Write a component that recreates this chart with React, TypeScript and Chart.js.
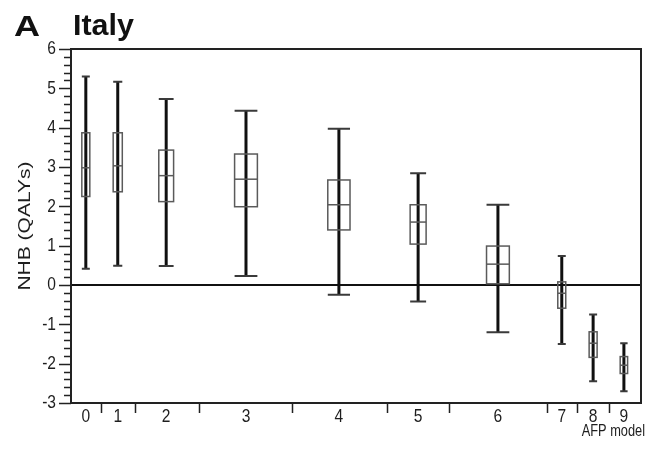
import React, { useEffect, useRef } from 'react';
import { Chart, registerables } from 'chart.js';

Chart.register(...registerables);

// ---- Data ----
const modelLabels = ['0', '1', '2', '3', '4', '5', '6', '7', '8', '9'];
const modelX = [2.6, 8.2, 16.7, 30.7, 47.0, 60.9, 74.9, 86.1, 91.6, 97.0];
const modelBoundaries = [5.26, 11.2, 22.5, 38.8, 55.4, 66.3, 83.5, 88.8, 94.4];
const whiskerHigh = [5.3, 5.17, 4.73, 4.43, 3.97, 2.84, 2.04, 0.74, -0.75, -1.48];
const quartile3 = [3.87, 3.87, 3.43, 3.33, 2.67, 2.04, 0.99, 0.08, -1.19, -1.82];
const medians = [2.98, 3.03, 2.78, 2.69, 2.04, 1.6, 0.53, -0.21, -1.48, -2.04];
const quartile1 = [2.25, 2.37, 2.12, 1.99, 1.4, 1.04, 0.03, -0.59, -1.84, -2.25];
const whiskerLow = [0.41, 0.49, 0.48, 0.23, -0.25, -0.42, -1.2, -1.5, -2.45, -2.7];
const yMin = -3;
const yMax = 6;

// ---- Styles ----
const BOX_WIDTH_UNITS = [1.4, 1.6, 2.6, 4.0, 3.9, 2.8, 4.0, 1.4, 1.4, 1.3];
const SANS = "'Liberation Sans', Arial, sans-serif";
const TEXT = '#1e1e1e';
const SQUEEZE = 0.82;

function squeezedText(ctx: any, text: string, px: number, py: number, align: string, size: number, sx: number) {
  ctx.save();
  ctx.translate(px, py);
  ctx.scale(sx, 1);
  ctx.font = `${size}px ${SANS}`;
  ctx.textAlign = align;
  ctx.textBaseline = 'middle';
  ctx.fillText(text, 0, 0);
  ctx.restore();
}

const boxPlotPlugin = {
  id: 'boxPlot',
  afterDatasetsDraw(chart: any) {
    const { ctx, chartArea, scales } = chart;
    const x = scales.x;
    const y = scales.y;
    ctx.save();
    ctx.strokeStyle = '#111';
    ctx.lineWidth = 2;
    ctx.beginPath();
    ctx.moveTo(chartArea.left, y.getPixelForValue(0));
    ctx.lineTo(chartArea.right, y.getPixelForValue(0));
    ctx.stroke();

    for (let i = 0; i < modelX.length; i++) {
      const cx = x.getPixelForValue(modelX[i]);
      const half =
        (x.getPixelForValue(modelX[i] + BOX_WIDTH_UNITS[i] / 2) -
          x.getPixelForValue(modelX[i] - BOX_WIDTH_UNITS[i] / 2)) / 2;
      const yHi = y.getPixelForValue(whiskerHigh[i]);
      const yLo = y.getPixelForValue(whiskerLow[i]);
      const yQ3 = y.getPixelForValue(quartile3[i]);
      const yQ1 = y.getPixelForValue(quartile1[i]);
      const yMed = y.getPixelForValue(medians[i]);

      ctx.strokeStyle = '#101010';
      ctx.lineWidth = 3;
      ctx.beginPath();
      ctx.moveTo(cx, yHi);
      ctx.lineTo(cx, yLo);
      ctx.stroke();

      ctx.strokeStyle = '#3a3a3a';
      ctx.lineWidth = 2;
      ctx.beginPath();
      ctx.moveTo(cx - half, yHi);
      ctx.lineTo(cx + half, yHi);
      ctx.moveTo(cx - half, yLo);
      ctx.lineTo(cx + half, yLo);
      ctx.stroke();

      ctx.strokeStyle = '#5a5a5a';
      ctx.lineWidth = 1.5;
      ctx.strokeRect(cx - half, yQ3, half * 2, yQ1 - yQ3);
      ctx.beginPath();
      ctx.moveTo(cx - half, yMed);
      ctx.lineTo(cx + half, yMed);
      ctx.stroke();
    }
    ctx.restore();
  },
};

const framePlugin = {
  id: 'frame',
  afterDraw(chart: any) {
    const { ctx, chartArea, scales } = chart;
    const x = scales.x;
    const y = scales.y;
    ctx.save();
    ctx.strokeStyle = '#222';
    ctx.lineWidth = 2;
    ctx.strokeRect(chartArea.left, chartArea.top, chartArea.right - chartArea.left, chartArea.bottom - chartArea.top);

    // y ticks (major + minor)
    ctx.lineWidth = 1.5;
    ctx.beginPath();
    for (let k = 0; k <= (yMax - yMin) * 5; k++) {
      const v = yMin + k * 0.2;
      const major = k % 5 === 0;
      const py = Math.round(y.getPixelForValue(v)) + 0.5;
      ctx.moveTo(chartArea.left - (major ? 12 : 7), py);
      ctx.lineTo(chartArea.left, py);
    }
    ctx.stroke();

    // x boundary ticks
    ctx.beginPath();
    for (const b of modelBoundaries) {
      const px = Math.round(x.getPixelForValue(b)) + 0.5;
      ctx.moveTo(px, chartArea.bottom);
      ctx.lineTo(px, chartArea.bottom + 10);
    }
    ctx.stroke();

    // tick labels (narrow, drawn from the scales' ticks)
    ctx.fillStyle = TEXT;
    y.ticks.forEach((t: any) => {
      squeezedText(ctx, String(t.value), chartArea.left - 15, y.getPixelForValue(t.value), 'right', 19, SQUEEZE);
    });
    x.ticks.forEach((t: any, i: number) => {
      squeezedText(ctx, modelLabels[i], x.getPixelForValue(t.value), chartArea.bottom + 14, 'center', 19, SQUEEZE);
    });

    // titles
    ctx.fillStyle = '#111';
    ctx.save();
    ctx.translate(14, 36);
    ctx.scale(1.2, 1);
    ctx.font = `bold 30px ${SANS}`;
    ctx.textAlign = 'left';
    ctx.textBaseline = 'alphabetic';
    ctx.fillText('A', 0, 0);
    ctx.restore();
    ctx.save();
    ctx.translate(73, 35);
    ctx.scale(1.05, 1);
    ctx.font = `bold 29px ${SANS}`;
    ctx.textAlign = 'left';
    ctx.textBaseline = 'alphabetic';
    ctx.fillText('Italy', 0, 0);
    ctx.restore();

    // y axis title
    ctx.save();
    ctx.translate(25, (chartArea.top + chartArea.bottom) / 2);
    ctx.rotate(-Math.PI / 2);
    ctx.scale(1, 0.82);
    ctx.fillStyle = TEXT;
    ctx.font = `21px ${SANS}`;
    ctx.textAlign = 'center';
    ctx.textBaseline = 'middle';
    ctx.fillText('NHB (QALYs)', 0, 0);
    ctx.restore();

    // x axis title
    ctx.fillStyle = TEXT;
    squeezedText(ctx, 'AFP model', 645, 432, 'right', 16, 0.8);
    ctx.restore();
  },
};

export default function App() {
  const canvasRef = useRef<HTMLCanvasElement | null>(null);

  useEffect(() => {
    const canvas = canvasRef.current;
    if (!canvas) return;
    const chart = new Chart(canvas, {
      type: 'scatter',
      data: {
        datasets: [
          {
            label: 'Median NHB',
            data: modelX.map((xv, i) => ({ x: xv, y: medians[i] })),
            pointRadius: 0,
            showLine: false,
          },
        ],
      },
      options: {
        animation: false,
        responsive: false,
        devicePixelRatio: 1,
        layout: { padding: { top: 49, right: 7, left: 0, bottom: 0 } },
        plugins: {
          legend: { display: false },
          tooltip: { enabled: false },
          title: { display: false },
        },
        scales: {
          x: {
            type: 'linear',
            min: 0,
            max: 100,
            position: 'bottom',
            grid: { display: false, drawTicks: false },
            border: { display: false },
            afterBuildTicks: (axis: any) => {
              axis.ticks = modelX.map((v) => ({ value: v }));
            },
            afterFit: (axis: any) => {
              axis.height = 54;
            },
            ticks: { display: false, autoSkip: false, maxRotation: 0 },
          },
          y: {
            type: 'linear',
            min: yMin,
            max: yMax,
            grid: { display: false, drawTicks: false },
            border: { display: false },
            afterFit: (axis: any) => {
              axis.width = 71;
            },
            ticks: { display: false, stepSize: 1 },
          },
        },
      },
      plugins: [boxPlotPlugin, framePlugin],
    });
    return () => chart.destroy();
  }, []);

  return (
    <div style={{ position: 'fixed', left: 0, top: 0, width: 648, height: 457, background: '#fff' }}>
      <canvas ref={canvasRef} width={648} height={457} />
    </div>
  );
}
